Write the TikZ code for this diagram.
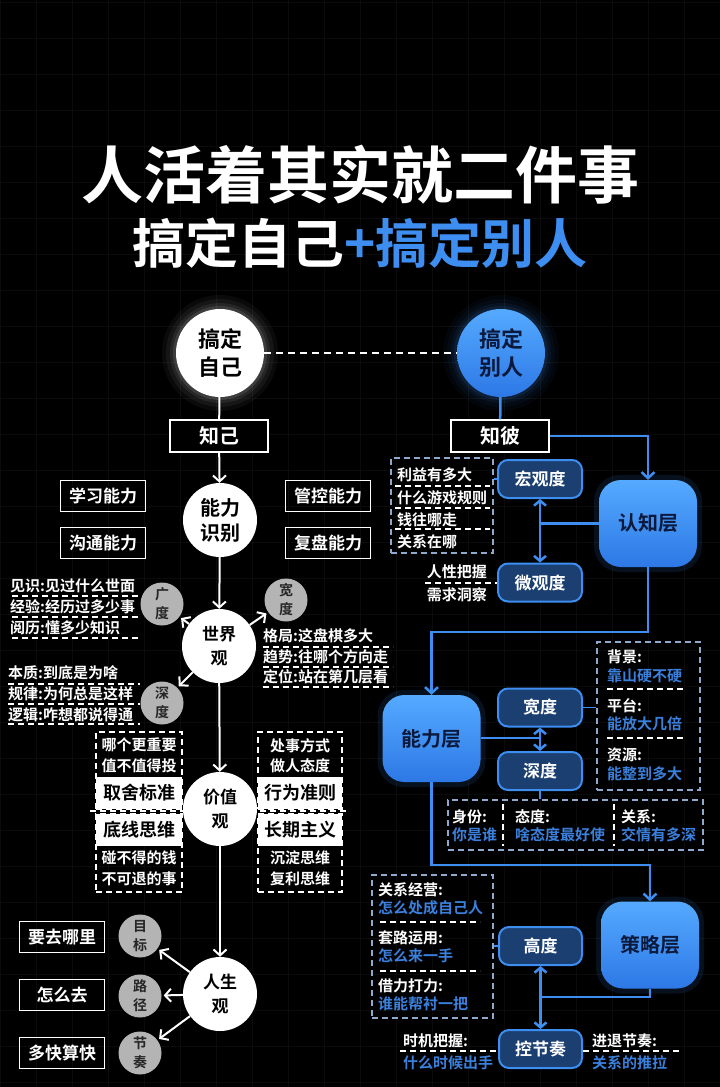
\documentclass[tikz,border=0pt]{standalone}
\usepackage{fontspec}
\setmainfont{Noto Sans CJK SC}[BoldFont={Noto Sans CJK SC Bold}]
\usetikzlibrary{arrows.meta,calc}
\definecolor{bl}{HTML}{3D8EF0}
\definecolor{bltxt}{HTML}{3A80DC}
\definecolor{navy}{HTML}{0B1A3C}
\definecolor{sboxfill}{HTML}{1A3F70}
\definecolor{grayc}{HTML}{B4B4B4}
\definecolor{dashbl}{HTML}{8FA9CC}
\definecolor{gridc}{HTML}{0B0B0B}
\definecolor{laytop}{HTML}{55AAFF}
\definecolor{laybot}{HTML}{2D78E6}
\newcommand{\myfs}[2]{\fontsize{#1}{#2}\selectfont}
\tikzset{
 wcirc/.style={circle, fill=white, text=black, align=center, inner sep=0pt, font=\myfs{20}{25}\bfseries},
 gcirc/.style={circle, fill=grayc, text=black!85, minimum size=43pt, inner sep=0pt, align=center, font=\myfs{14}{19}\bfseries},
 wbox/.style={draw=white, line width=1.5pt, fill=black, text=white, minimum width=98pt, minimum height=32pt, font=\myfs{20}{20}\bfseries, inner sep=0pt},
 obox/.style={draw=white, line width=1.8pt, text=white, minimum width=85pt, minimum height=31pt, inner sep=0pt, font=\myfs{17}{17}\bfseries},
 fbox/.style={fill=white, text=black, minimum width=86pt, minimum height=32pt, inner sep=0pt, font=\myfs{18}{18}\bfseries},
 lbl/.style={text=white, inner sep=0pt, anchor=west, font=\myfs{15}{15}\bfseries},
 lblr/.style={text=white, inner sep=0pt, anchor=east, font=\myfs{15}{15}\bfseries},
 lblc/.style={text=white, inner sep=0pt, font=\myfs{15}{15}\bfseries},
 bt/.style={text=bltxt, inner sep=0pt, anchor=west, font=\myfs{15}{15}\bfseries},
 wline/.style={white, line width=2pt},
 warr/.style={white, line width=2pt, -{Straight Barb[length=6pt,width=13pt]}},
 dsep/.style={white!85, line width=1.5pt, dash pattern=on 6pt off 4pt},
 dboxw/.style={draw=white!90, line width=1.5pt, dash pattern=on 6pt off 4pt, inner sep=0pt},
 layer/.style={rounded corners=22pt, top color=laytop, bottom color=laybot, minimum width=98pt, minimum height=87pt, text=navy, font=\myfs{20}{20}\bfseries, inner sep=0pt},
 lglow/.style={rounded corners=26pt, fill=bl, opacity=0.12, minimum width=108pt, minimum height=97pt, inner sep=0pt},
 sbox/.style={rounded corners=10pt, fill=sboxfill, draw=bl, line width=2pt, minimum width=84pt, minimum height=38pt, text=white, font=\myfs{17}{17}\bfseries, inner sep=0pt},
 bline/.style={bl, line width=2.5pt},
 barr/.style={bl, line width=2.5pt, -{Straight Barb[length=6pt,width=13pt]}},
 bdarr/.style={bl, line width=2.5pt, {Straight Barb[length=5pt,width=12pt]}-{Straight Barb[length=5pt,width=12pt]}},
 dboxb/.style={draw=dashbl, line width=1.5pt, dash pattern=on 6pt off 4pt, inner sep=0pt},
}
\begin{document}
\begin{tikzpicture}[x=1pt,y=-1pt]
\fill[black] (0,0) rectangle (720,1087);
\useasboundingbox (0,0) rectangle (720,1087);
\foreach \gx in {0,36,...,720} \draw[gridc, line width=0.6pt] (\gx,0) -- (\gx,1087);
\foreach \gy in {2,38,...,1087} \draw[gridc, line width=0.6pt] (0,\gy) -- (720,\gy);

% title
\node[text=white, font=\myfs{62}{62}\bfseries] (t1) at (360,175) {人活着其实就二件事};
\node[font=\myfs{53}{53}\bfseries] (t2) at (360,243) {\textcolor{white}{搞定自己}\textcolor{bl}{+搞定别人}};

% glows
\coordinate (zjc) at (220,353);
\coordinate (brc) at (501,353);
\foreach \r/\o in {58/0.04,54/0.05,50/0.07,47/0.1} {
  \fill[white, opacity=\o] (zjc) circle (\r pt);
  \fill[bl, opacity=\o] (brc) circle (\r pt);
}
\node[lglow] (g_rz) at (648,523.5) {};
\node[lglow] (g_nl) at (431.5,738.5) {};
\node[lglow] (g_cl) at (650,945) {};

% ===== LEFT =====
\node[wcirc, minimum size=88pt, font=\myfs{22}{28}\bfseries] (zj) at (zjc) {搞定\\自己};
\node[wbox] (zhiji) at (219,436) {知己};
\draw[wline] (zj) -- (zhiji);
\node[wcirc, minimum size=74pt] (nl) at (220,520) {能力\\识别};
\draw[warr] (zhiji) -- (nl);
\node[obox] (xx) at (103,496) {学习能力};
\node[obox] (gt) at (103,543) {沟通能力};
\node[obox] (gk) at (328,496) {管控能力};
\node[obox] (fp) at (328,543) {复盘能力};

\node[wcirc, minimum size=74pt, font=\myfs{17}{24}\bfseries] (sj) at (219,646) {世界\\观};
\draw[warr] (nl) -- (sj);
\node[gcirc] (gd) at (162,604) {广\\度};
\node[gcirc] (kd) at (286,600) {宽\\度};
\node[gcirc] (sd) at (162,703) {深\\度};
\draw[warr, shorten >=2pt] (sj) -- (gd);
\draw[warr, shorten >=2pt] (sj) -- (kd);
\draw[warr, shorten >=2pt] (sj) -- (sd);

\node[lbl] (g1) at (10,586) {见识:见过什么世面};
\node[lbl] (g2) at (10,607) {经验:经历过多少事};
\node[lbl] (g3) at (10,628) {阅历:懂多少知识};
\foreach \yy in {596,617,638} \draw[dsep] (12,\yy) -- (138,\yy);
\node[lbl] (s1) at (8,673) {本质:到底是为啥};
\node[lbl] (s2) at (8,694) {规律:为何总是这样};
\node[lbl] (s3) at (8,715) {逻辑:咋想都说得通};
\foreach \yy in {684,704,724} \draw[dsep] (8,\yy) -- (140,\yy);
\node[lbl] (k1) at (263,636) {格局:这盘棋多大};
\node[lbl] (k2) at (263,657) {趋势:往哪个方向走};
\node[lbl] (k3) at (263,677) {定位:站在第几层看};
\foreach \yy in {647,667,687} \draw[dsep] (263,\yy) -- (393,\yy);

% values
\draw[dsep] (90,811) -- (347,811);
\node[dboxw, minimum width=86pt, minimum height=77pt] (qsd) at (139,770.5) {};
\node[dboxw, minimum width=86pt, minimum height=78pt] (dxd) at (139,853) {};
\node[dboxw, minimum width=84pt, minimum height=77pt] (xwd) at (300,770.5) {};
\node[dboxw, minimum width=84pt, minimum height=78pt] (cqd) at (300,853) {};
\node[fbox] (qs) at (139,793) {取舍标准};
\node[fbox] (dx) at (139,830) {底线思维};
\node[fbox, minimum width=84pt] (xw) at (300,793) {行为准则};
\node[fbox, minimum width=84pt] (cq) at (300,830) {长期主义};
\node[lblc] (q1) at (139,745) {哪个更重要};
\node[lblc] (q2) at (139,766) {值不值得投};
\node[lblc] (d1) at (139,858) {碰不得的钱};
\node[lblc] (d2) at (139,879) {不可退的事};
\node[lblc] (x1) at (300,746) {处事方式};
\node[lblc] (x2) at (300,766) {做人态度};
\node[lblc] (c1) at (300,858) {沉淀思维};
\node[lblc] (c2) at (300,879) {复利思维};
\node[wcirc, minimum size=74pt, font=\myfs{17}{24}\bfseries] (jz) at (220,809) {价值\\观};
\draw[warr] (sj) -- (jz);

% life
\node[wcirc, minimum size=74pt, font=\myfs{17}{24}\bfseries] (rs) at (220,994) {人生\\观};
\draw[warr] (jz) -- (rs);
\node[gcirc] (mb) at (140,936) {目\\标};
\node[gcirc] (lj) at (140,996) {路\\径};
\node[gcirc] (jzou) at (140,1053) {节\\奏};
\draw[warr, shorten >=2pt] (rs) -- (mb);
\draw[warr, shorten >=2pt] (rs) -- (lj);
\draw[warr, shorten >=2pt] (rs) -- (jzou);
\node[obox] (yq) at (62,937) {要去哪里};
\node[obox] (zmq) at (62,995) {怎么去};
\node[obox] (dk) at (62,1053) {多快算快};

% ===== RIGHT =====
\node[circle, minimum size=88pt, inner sep=0pt, top color=laytop, bottom color=laybot, text=navy, align=center, font=\myfs{22}{28}\bfseries] (br) at (brc) {搞定\\别人};
\draw[white!55, line width=1.5pt, dash pattern=on 7pt off 5pt] (zj) -- (br);
\node[wbox] (zhibi) at (500,436) {知彼};
\draw[bline] (br) -- (zhibi);

\node[layer] (rz) at (648,523.5) {认知层};
\draw[barr] (zhibi.east) -| (rz.north);
\node[sbox] (hg) at (540,479) {宏观度};
\node[sbox] (wg) at (540,582.5) {微观度};
\draw[bdarr] (hg) -- (wg);
\draw[bline] (rz.west) -- (rz.west -| hg);
\node[dboxb, minimum width=102pt, minimum height=95pt] (hgl) at (442,505.5) {};
\draw[bline, line width=1.5pt] (hgl.east |- hg) -- (hg.west);
\node[lbl] (h1) at (397,475) {利益有多大};
\node[lbl] (h2) at (397,498) {什么游戏规则};
\node[lbl] (h3) at (397,520) {钱往哪走};
\node[lbl] (h4) at (397,542) {关系在哪};
\foreach \yy in {486,508,529} \draw[dsep] (395,\yy) -- (490,\yy);
\node[lblr] (w1) at (487,572) {人性把握};
\node[lblr] (w2) at (487,595) {需求洞察};
\draw[dsep] (425,583) -- (wg.west |- 0,583);

% ability layer
\node[layer] (nlc) at (431.5,738.5) {能力层};
\draw[barr] (rz.south) |- (540,632) -| (nlc.north);
\node[sbox] (kdb) at (540,707.5) {宽度};
\node[sbox] (sdb) at (540,771) {深度};
\draw[bdarr] (kdb) -- (sdb);
\draw[bline] (nlc.east |- 0,738) -- (540,738);
\node[dboxb, minimum width=103pt, minimum height=148pt] (bj) at (648.5,716) {};
\draw[bline, line width=1.5pt] (kdb.east) -- (bj.west |- kdb);
\node[lbl] (b1) at (607,657) {背景:};
\node[bt] (b2) at (607,676) {靠山硬不硬};
\node[lbl] (b3) at (607,706) {平台:};
\node[bt] (b4) at (607,724) {能放大几倍};
\node[lbl] (b5) at (607,755) {资源:};
\node[bt] (b6) at (607,774) {能整到多大};
\foreach \yy in {689,738} \draw[dsep] (607,\yy) -- (683,\yy);
\node[dboxb, minimum width=255pt, minimum height=50pt] (sfb) at (575.5,825) {};
\draw[bline, line width=1.5pt] (sdb.south) -- (sfb.north -| sdb);
\draw[dsep] (503,804) -- (503,846);
\draw[dsep] (614,804) -- (614,846);
\node[lbl] (f1) at (452,817) {身份:};
\node[bt] (f2) at (452,835) {你是谁};
\node[lbl] (f3) at (515,817) {态度:};
\node[bt] (f4) at (515,835) {啥态度最好使};
\node[lbl] (f5) at (621,817) {关系:};
\node[bt] (f6) at (621,835) {交情有多深};

% strategy layer
\node[layer] (cl) at (650,945) {策略层};
\draw[barr] (nlc.south) |- (540,865) -| (cl.north);
\node[sbox, minimum width=83pt] (gdb) at (540.5,946) {高度};
\node[sbox, minimum width=83pt] (kjz) at (540.5,1049) {控节奏};
\draw[bdarr] (gdb) -- (kjz);
\draw[bline] (cl.south) |- (540.5,997);
\node[dboxb, minimum width=121pt, minimum height=143pt] (gxb) at (432.5,946.5) {};
\draw[bline, line width=1.5pt] (gxb.east |- gdb) -- (gdb.west);
\node[lbl] (r1) at (378,890) {关系经营:};
\node[bt] (r2) at (378,908) {怎么处成自己人};
\node[lbl] (r3) at (378,938) {套路运用:};
\node[bt] (r4) at (378,956) {怎么来一手};
\node[lbl] (r5) at (378,986) {借力打力:};
\node[bt] (r6) at (378,1004) {谁能帮衬一把};
\foreach \yy in {922,971} \draw[dsep] (380,\yy) -- (480,\yy);
\node[lbl] (m1) at (403,1041) {时机把握:};
\node[bt] (m2) at (403,1063) {什么时候出手};
\draw[dsep] (400,1051) -- (kjz.west |- 0,1051);
\node[lbl] (n1) at (592,1041) {进退节奏:};
\node[bt] (n2) at (592,1063) {关系的推拉};
\draw[dsep] (kjz.east |- 0,1051) -- (680,1051);
\end{tikzpicture}
\end{document}
